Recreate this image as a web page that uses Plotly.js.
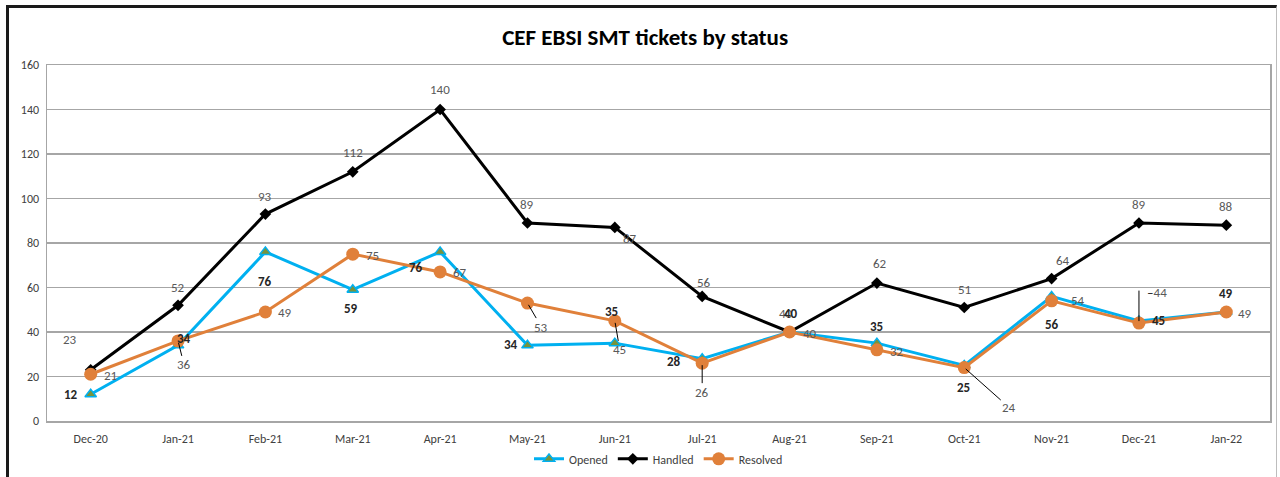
<!DOCTYPE html>
<html>
<head>
<meta charset="utf-8">
<script src="https://cdn.plot.ly/plotly-3.0.1.min.js"></script>
<style>
  html, body { margin: 0; padding: 0; background: #fff; width: 1280px; height: 477px; overflow: hidden; }
  #frame { position: absolute; left: 6px; top: 5px; width: 1271px; height: 480px;
           border-top: 3px solid #1a1a1a; border-left: 3px solid #1a1a1a; border-right: 1px solid #bdbdbd; box-sizing: border-box; }
  #chart { position: absolute; left: 0; top: 0; width: 1280px; height: 477px; }
</style>
</head>
<body>
<div id="frame"></div>
<div id="chart"></div>
<script>
// ---- data ----
const categories = ["Dec-20","Jan-21","Feb-21","Mar-21","Apr-21","May-21","Jun-21","Jul-21","Aug-21","Sep-21","Oct-21","Nov-21","Dec-21","Jan-22"];
const opened   = [12, 34, 76, 59, 76, 34, 35, 28, 40, 35, 25, 56, 45, 49];
const handled  = [23, 52, 93, 112, 140, 89, 87, 56, 40, 62, 51, 64, 89, 88];
const resolved = [21, 36, 49, 75, 67, 53, 45, 26, 40, 32, 24, 54, 44, 49];

// ---- label placement (pixel offsets, dx right, dy down) ----
const handledOff = [[-21,-30],[0,-18],[0,-18],[0,-19],[0,-20],[0,-18],[15,11],[2,-14],[-4,-19],[3,-20],[0,-18],[11,-18],[0,-18],[0,-19]];
const openedOff  = [[-20,0],[6,-7],[0,30],[-2,19],[-24,16],[-16,-1],[-3,-32],[-28,3],[1,-19],[0,-17],[-1,22],[0,28],[20,0],[0,-18]];
const resolvedOff= [[20,1],[6,24],[20,1],[20,1],[20,1],[14,24],[5,29],[0,29],[20,1],[20,2],[45,40],[26,0],[18,-31],[19,2]];
// leader style per resolved label: "" none, "line" straight, "elbow" vertical then horizontal
const resolvedLeader = ["","line","","","","line","line","line","","","line","","elbow",""];

const FONT = "Carlito, Lato, 'Open Sans', sans-serif";

const traces = [
  { name: "Opened", x: categories, y: opened, type: "scatter", mode: "lines+markers",
    line: { color: "#00B0F0", width: 3 },
    marker: { symbol: "triangle-up", size: 10, color: "#77933C", line: { color: "#00B0F0", width: 1.5 } } },
  { name: "Handled", x: categories, y: handled, type: "scatter", mode: "lines+markers",
    line: { color: "#000000", width: 3 },
    marker: { symbol: "diamond", size: 9, color: "#000000" } },
  { name: "Resolved", x: categories, y: resolved, type: "scatter", mode: "lines+markers",
    line: { color: "#E0803A", width: 3 },
    marker: { symbol: "circle", size: 13, color: "#E0803A" } }
];

const annotations = [];
function addLabel(i, v, off, bold, leader) {
  const base = { x: categories[i], y: v, xref: "x", yref: "y",
    text: bold ? "<b>" + v + "</b>" : String(v),
    font: { family: FONT, size: 13, color: bold ? "#262626" : "#595959" } };
  if (leader === "line") {
    Object.assign(base, { showarrow: true, arrowhead: 0, arrowwidth: 1, arrowcolor: "#000",
      ax: off[0], ay: off[1], standoff: 2 });
    annotations.push(base);
  } else if (leader === "elbow") {
    // vertical segment from point up to label height, then text with short tick
    annotations.push({ x: categories[i], y: v, xref: "x", yref: "y", text: "", showarrow: true,
      arrowhead: 0, arrowwidth: 1, arrowcolor: "#000", ax: 0, ay: off[1] - 3, standoff: 2 });
    Object.assign(base, { showarrow: false, xshift: off[0], yshift: -off[1],
      text: "<span style='color:#000'>\u2012</span>" + base.text });
    annotations.push(base);
  } else {
    Object.assign(base, { showarrow: false, xshift: off[0], yshift: -off[1] });
    annotations.push(base);
  }
}
handled.forEach((v, i) => addLabel(i, v, handledOff[i], false, ""));
opened.forEach((v, i) => addLabel(i, v, openedOff[i], true, ""));
resolved.forEach((v, i) => addLabel(i, v, resolvedOff[i], false, resolvedLeader[i]));

const layout = {
  width: 1280, height: 477,
  margin: { l: 47, r: 10, t: 65, b: 56 },
  paper_bgcolor: "rgba(0,0,0,0)", plot_bgcolor: "#ffffff",
  font: { family: FONT, size: 12, color: "#404040" },
  title: { text: "<b>CEF EBSI SMT tickets by status</b>", x: 0.504, xref: "container", y: 0.922, yref: "container",
           yanchor: "middle", font: { family: FONT, size: 23, color: "#000" } },
  xaxis: { type: "category", range: [-0.5, 13.5], showgrid: false, showline: true, linecolor: "#a6a6a6", linewidth: 1.5,
           mirror: true, ticks: "", tickfont: { size: 12, color: "#404040" }, fixedrange: true, ticklabelstandoff: 6 },
  yaxis: { range: [0, 160], dtick: 20, showgrid: true, gridcolor: "#a6a6a6", gridwidth: 1.5, showline: true,
           linecolor: "#a6a6a6", linewidth: 1.5, mirror: true, zeroline: false, ticks: "",
           tickfont: { size: 12, color: "#404040" }, fixedrange: true, ticklabelstandoff: 4 },
  showlegend: true,
  legend: { orientation: "h", x: 0.5, xanchor: "center", xref: "paper", y: 0.038, yref: "container", yanchor: "middle",
            font: { size: 12, color: "#404040" }, itemwidth: 30, tracegroupgap: 0, bgcolor: "rgba(0,0,0,0)" },
  annotations: annotations
};

Plotly.newPlot("chart", traces, layout, { displayModeBar: false, staticPlot: true });
</script>
</body>
</html>
